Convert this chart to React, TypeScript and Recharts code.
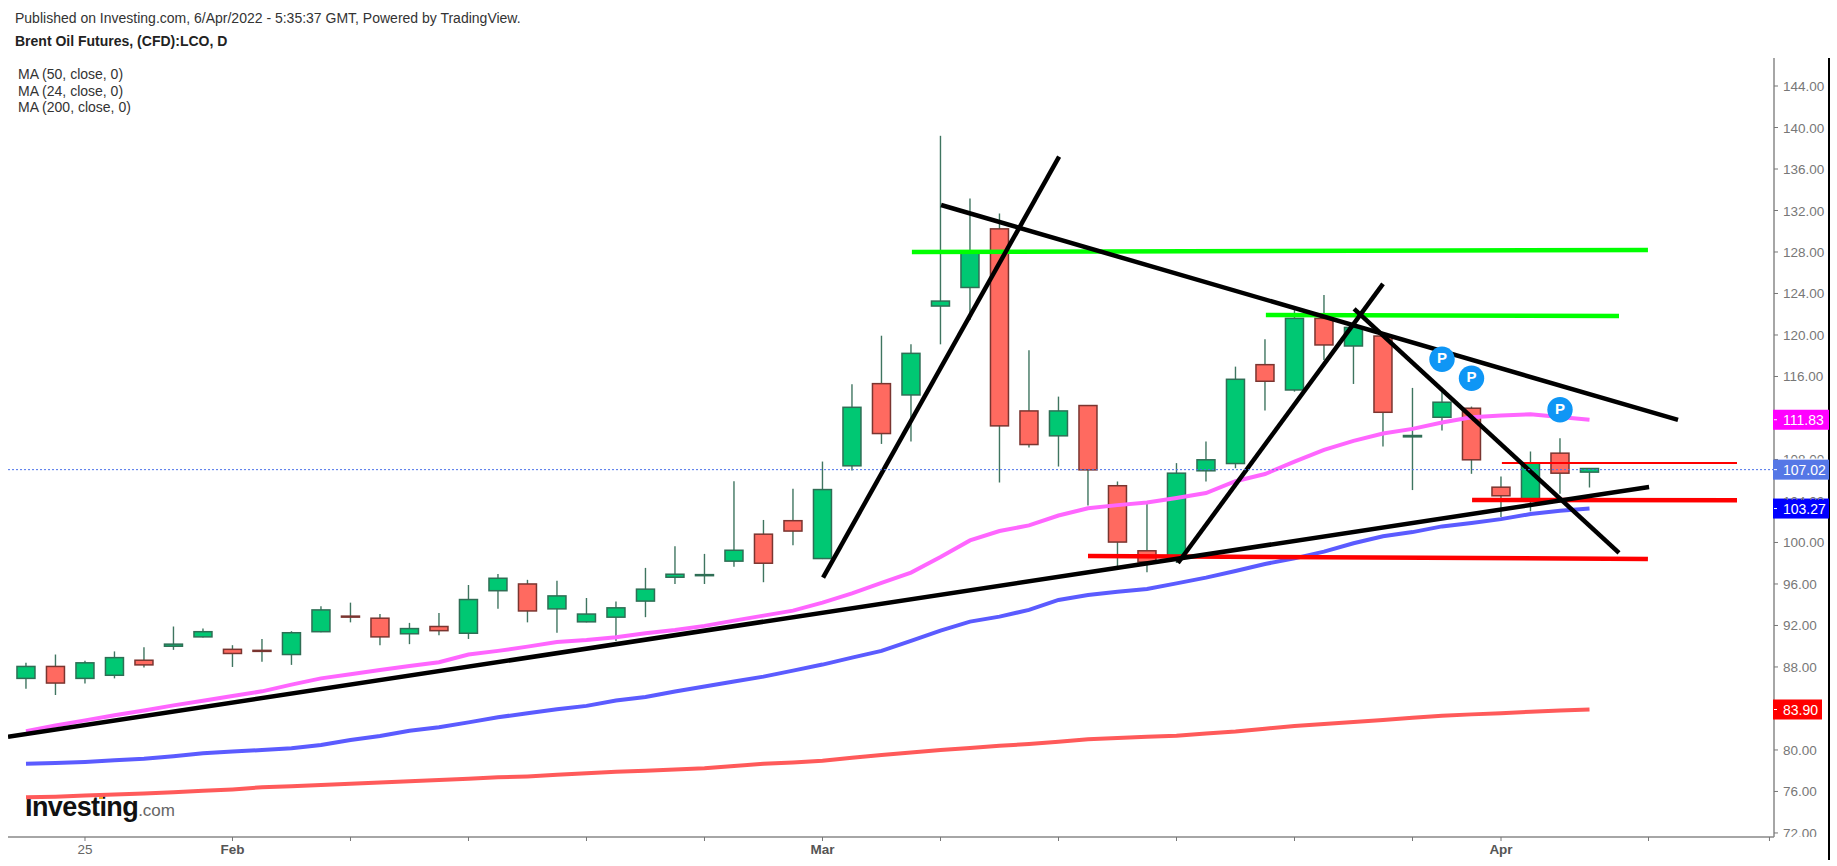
import React from "react";
import { ComposedChart, Bar, Line, XAxis, YAxis, ReferenceLine, ReferenceDot } from "recharts";

const opens = [86.9,88.05,86.9,87.2,88.65,90.0,90.9,89.7,89.6,89.2,91.4,92.9,92.7,91.2,91.9,91.25,95.35,96.0,93.6,92.35,92.8,94.35,96.65,96.8,98.2,100.8,102.1,98.45,107.39,115.31,114.22,122.79,124.58,130.23,112.68,110.28,113.2,105.47,99.2,98.73,106.91,107.61,117.14,114.7,121.6,118.94,119.9,110.18,112.07,112.94,105.33,104.12,108.61,106.78];
const highs = [88.4,89.2,88.6,89.5,89.9,91.9,91.7,90.1,90.7,91.45,93.85,94.2,93.1,92.25,93.2,95.9,96.95,96.4,96.3,94.65,94.3,97.55,99.63,98.9,105.89,102.17,105.18,107.8,115.25,119.93,119.1,139.2,133.15,131.7,118.52,114.06,113.2,105.88,103.8,107.65,109.73,116.95,119.58,122.4,123.85,121.12,120.0,114.9,114.7,113.1,106.36,108.77,110.05,107.16];
const lows = [85.9,85.3,86.4,86.9,87.95,89.65,90.85,88.0,88.5,88.2,91.35,92.3,90.1,90.2,91.05,90.7,93.6,92.3,91.3,92.3,90.5,92.8,96.0,96.0,97.67,96.17,99.73,98.4,106.94,109.5,109.73,119.1,121.44,105.78,109.15,107.32,103.57,97.7,97.12,98.02,105.88,107.16,112.71,114.54,117.59,115.28,109.25,105.05,110.79,106.62,102.45,103.0,104.69,105.3];
const closes = [88.05,86.45,88.4,88.9,88.2,90.2,91.4,89.3,89.55,91.3,93.5,92.85,90.9,91.7,91.5,94.5,96.55,93.4,94.85,93.1,93.7,95.5,96.94,96.9,99.25,98.0,101.1,105.1,113.03,110.5,118.23,123.27,127.95,111.24,109.44,112.68,107.0,100.04,98.12,106.68,107.97,115.73,115.54,121.6,119.04,120.73,112.55,110.31,113.52,107.97,104.5,107.65,106.68,107.13];
const ma24 = [81.8,82.35,82.85,83.35,83.8,84.3,84.75,85.2,85.65,86.3,86.9,87.3,87.7,88.1,88.45,89.2,89.55,89.96,90.41,90.6,90.86,91.25,91.57,91.96,92.47,92.95,93.43,94.2,95.1,96.1,97.1,98.6,100.2,101.1,101.65,102.6,103.3,103.6,103.86,104.28,104.76,105.9,106.6,107.8,108.93,109.8,110.5,110.95,111.56,112.07,112.23,112.36,112.1,111.83];
const ma50 = [78.68,78.75,78.85,79.0,79.16,79.4,79.68,79.84,80.0,80.16,80.48,80.96,81.35,81.86,82.18,82.66,83.15,83.54,83.92,84.25,84.76,85.11,85.63,86.11,86.59,87.07,87.65,88.23,88.9,89.55,90.51,91.51,92.37,92.85,93.5,94.46,94.94,95.26,95.52,96.06,96.61,97.25,97.93,98.47,99.12,99.92,100.6,101.0,101.55,101.87,102.25,102.74,103.05,103.27];
const ma200 = [75.43,75.5,75.6,75.7,75.8,75.93,76.06,76.2,76.4,76.5,76.62,76.74,76.86,76.98,77.1,77.23,77.36,77.45,77.6,77.75,77.9,78.0,78.12,78.24,78.45,78.66,78.8,78.95,79.25,79.52,79.75,80.0,80.2,80.4,80.58,80.8,81.03,81.15,81.27,81.38,81.58,81.77,82.05,82.31,82.5,82.7,82.89,83.1,83.3,83.43,83.55,83.69,83.8,83.9];

const priceTicks = [72,76,80,84,88,92,96,100,104,108,112,116,120,124,128,132,136,140,144];
const dateTicks = [2,7,11,15,19,23,27,31,35,39,43,47,50,55,59.1];
const dateLabels: Record<string, string> = { "2": "25", "7": "Feb", "27": "Mar", "50": "Apr" };
const boldDates = ["Feb", "Mar", "Apr"];

const blackLines = [
  [[-0.61, 81.28], [55.02, 105.35]],
  [[31.02, 132.53], [56.0, 111.81]],
  [[27.02, 96.61], [35.02, 137.19]],
  [[39.05, 98.02], [46.0, 124.92]],
  [[45.02, 122.51], [54.0, 98.99]],
];
const greenLines = [
  [[30.03, 128.0], [54.98, 128.19]],
  [[42.03, 121.93], [54.0, 121.83]],
];
const redLines = [
  [[49.02, 104.1], [58.0, 104.07]],
  [[36.0, 98.7], [54.98, 98.41]],
];
const thinRedLines = [[[50.03, 107.66], [58.0, 107.66]]];
const patternMarks = [[48, 117.66], [49, 115.83], [52, 112.8]];
const lastPrice = 107.02;
const pills: [string, number, string, number][] = [
  ["111.83", 111.83, "#ff00ff", 56],
  ["107.02", 107.02, "#5577e6", 56],
  ["103.27", 103.27, "#0000ff", 56],
  ["83.90", 83.9, "#ff0000", 49],
];
// Axis labels that the price tags hide entirely, or cover in part.
const hiddenTicks = [112, 84];
const coveredTicks = [108, 104, 72];

const rows = opens.map((o, i) => ({
  i, open: o, high: highs[i], low: lows[i], close: closes[i],
  ma24: ma24[i], ma50: ma50[i], ma200: ma200[i],
}));

const FONT = "'Liberation Sans', Arial, sans-serif";
const BODY_WIDTH = 18;

function Candle(props: any) {
  const { x, y, width, height, payload } = props;
  const { open, close, high, low } = payload;
  const up = close >= open;
  const k = height / (high - low);
  const top = y + (high - Math.max(open, close)) * k;
  const bot = y + (high - Math.min(open, close)) * k;
  const cx = x + width / 2;
  return (
    <g>
      <line x1={cx} x2={cx} y1={y} y2={y + height} stroke="#3f7560" strokeWidth={1.4} />
      <rect x={cx - BODY_WIDTH / 2} y={top} width={BODY_WIDTH} height={Math.max(bot - top, 1)}
        fill={up ? "#00c873" : "#ff6a60"} stroke={up ? "#2f6e55" : "#7a3530"} strokeWidth={1.5} />
    </g>
  );
}

function PriceTick(props: any) {
  const { x, y, payload } = props;
  const v = payload.value;
  if (hiddenTicks.includes(v)) return <g />;
  const label = Number(v).toFixed(2);
  const covered = coveredTicks.includes(v);
  const keep = v === 72 ? 4 : -1;
  const id = "tickClip" + v;
  return (
    <g>
      {covered && <clipPath id={id}><rect x={x} y={y - 14} width={70} height={14 + keep} /></clipPath>}
      <text x={1783} y={y + 5} fontSize={13.5} fontFamily={FONT} fill="#777"
        clipPath={covered ? `url(#${id})` : undefined}>{label}</text>
    </g>
  );
}

function DateTick(props: any) {
  const { x, y, payload } = props;
  const label = dateLabels[String(payload.value)] ?? "";
  const bold = boldDates.includes(label);
  return (
    <text x={x} y={y + 11} textAnchor="middle" fontSize={13.5} fontFamily={FONT}
      fontWeight={bold ? 700 : 400} fill={bold ? "#555" : "#666"}>{label}</text>
  );
}

function pts(l: number[][]) {
  return l.map((p) => ({ i: p[0], v: p[1] }));
}

function trend(l: number[][], key: string, stroke: string, width: number) {
  return (
    <Line key={key} data={pts(l)} dataKey="v" stroke={stroke} strokeWidth={width} dot={false}
      activeDot={false} isAnimationActive={false} legendType="none" />
  );
}

const textBase: React.CSSProperties = {
  position: "absolute", fontFamily: FONT, fontSize: 14, lineHeight: "16px", color: "#333", whiteSpace: "nowrap",
};

export default function App() {
  return (
    <div style={{ position: "absolute", left: 0, top: 0, width: 1837, height: 866, background: "#fff", overflow: "hidden" }}>
      <div style={{ ...textBase, left: 15, top: 10 }}>Published on Investing.com, 6/Apr/2022 - 5:35:37 GMT, Powered by TradingView.</div>
      <div style={{ ...textBase, left: 15, top: 33, fontWeight: 700, color: "#222" }}>Brent Oil Futures, (CFD):LCO, D</div>
      <div style={{ ...textBase, left: 18, top: 66 }}>MA (50, close, 0)</div>
      <div style={{ ...textBase, left: 18, top: 83 }}>MA (24, close, 0)</div>
      <div style={{ ...textBase, left: 18, top: 99 }}>MA (200, close, 0)</div>
      <div style={{ position: "absolute", left: 25, top: 791, fontFamily: FONT, whiteSpace: "nowrap", lineHeight: "32px" }}>
        <span style={{ fontSize: 27, fontWeight: 700, color: "#111", letterSpacing: -0.6 }}>Investing</span>
        <span style={{ fontSize: 17, color: "#666" }}>.com</span>
      </div>
      <div style={{ position: "absolute", left: 99, top: 796, width: 4, height: 3, background: "#f5a623" }} />
      <div style={{ position: "absolute", left: 1828, top: 58, width: 2, height: 802, background: "#000" }} />
      <div style={{ position: "absolute", left: 0, top: 0 }}>
        <ComposedChart width={1837} height={866} data={rows} margin={{ top: 58, right: 0, bottom: 0, left: 8 }}>
          <XAxis dataKey="i" type="number" domain={[-0.61, 59.254]} ticks={dateTicks} interval={0}
            height={29} tick={<DateTick />} tickLine={{ stroke: "#777", strokeWidth: 1 }} tickSize={4}
            axisLine={{ stroke: "#888", strokeWidth: 1.5 }} allowDataOverflow />
          <YAxis orientation="right" type="number" domain={[71.61, 146.7]} ticks={priceTicks} interval={0}
            width={63} tick={<PriceTick />} tickLine={{ stroke: "#777", strokeWidth: 1 }} tickSize={4}
            axisLine={{ stroke: "#888", strokeWidth: 1.5 }} allowDataOverflow />
          <Line dataKey="ma200" stroke="#ff5a5a" strokeWidth={4} dot={false} activeDot={false} isAnimationActive={false} />
          <Line dataKey="ma50" stroke="#5b5bff" strokeWidth={4} dot={false} activeDot={false} isAnimationActive={false} />
          <Line dataKey="ma24" stroke="#ff66ff" strokeWidth={4} dot={false} activeDot={false} isAnimationActive={false} />
          {thinRedLines.map((l, n) => trend(l, "t" + n, "#ff0000", 2))}
          {greenLines.map((l, n) => trend(l, "g" + n, "#00ff00", 4.5))}
          {redLines.map((l, n) => trend(l, "r" + n, "#ff0000", 4.5))}
          {blackLines.map((l, n) => trend(l, "b" + n, "#000", 4.5))}
          <Bar dataKey={(d: any) => [d.low, d.high]} barSize={18} shape={<Candle />} isAnimationActive={false} />
          <ReferenceLine y={lastPrice} stroke="#4a72ea" strokeWidth={1} strokeDasharray="2 2" />
          {patternMarks.map((m, n) => (
            <ReferenceDot key={"p" + n} x={m[0]} y={m[1]} r={0} ifOverflow="visible"
              shape={(p: any) => (
                <g>
                  <circle cx={p.cx} cy={p.cy} r={12.7} fill="#0f96f5" />
                  <text x={p.cx} y={p.cy + 4} textAnchor="middle" fontSize={15} fontWeight={700} fontFamily={FONT} fill="#fff">P</text>
                </g>
              )} />
          ))}
          {pills.map((m, n) => (
            <ReferenceDot key={"l" + n} x={59.254} y={m[1]} r={0} ifOverflow="visible"
              shape={(p: any) => (
                <g>
                  <rect x={p.cx - 1} y={p.cy - 10} width={m[3]} height={20} fill={m[2]} />
                  <line x1={p.cx} x2={p.cx + 3} y1={p.cy} y2={p.cy} stroke="#fff" />
                  <text x={1783} y={p.cy + 5} fontSize={14} fontFamily={FONT} fill="#fff">{m[0]}</text>
                </g>
              )} />
          ))}
        </ComposedChart>
      </div>
    </div>
  );
}
